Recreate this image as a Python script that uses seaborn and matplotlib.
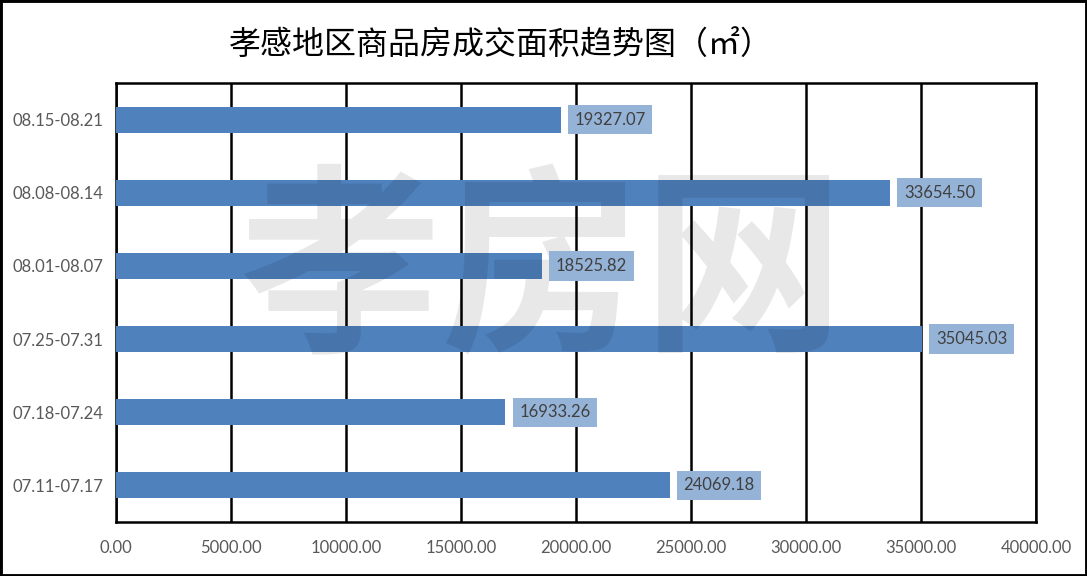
import matplotlib
matplotlib.use("Agg")
import matplotlib.pyplot as plt
import seaborn as sns
import pandas as pd
from matplotlib.patches import Rectangle
from matplotlib.ticker import FuncFormatter, MultipleLocator

categories = ["08.15-08.21", "08.08-08.14", "08.01-08.07", "07.25-07.31", "07.18-07.24", "07.11-07.17"]
values = [19327.07, 33654.50, 18525.82, 35045.03, 16933.26, 24069.18]
title = "孝感地区商品房成交面积趋势图（㎡）"
watermark = "孝房网"

sns.set_style("white")
plt.rcParams['font.family'] = ['Lato', 'Noto Sans CJK SC', 'DejaVu Sans']

fig = plt.figure(figsize=(10.87, 5.76), dpi=100)
ax = fig.add_axes([116/1087, 1 - 522/576, 920/1087, 439/576])
df = pd.DataFrame({"period": categories, "area": values})
sns.barplot(data=df, x="area", y="period", orient="h", color="#4f81bd",
            saturation=1, width=0.355, ax=ax, zorder=3, linewidth=0,
            edgecolor="none")
ax.set_xlim(0, 40000)
ax.xaxis.set_major_locator(MultipleLocator(5000))
ax.xaxis.set_major_formatter(FuncFormatter(lambda v, p: f"{v:.2f}"))
ax.grid(axis='x', color='black', lw=1.8)
ax.grid(axis='y', visible=False)
ax.set_axisbelow(True)
ax.set_xlabel("")
ax.set_ylabel("")
for s in ax.spines.values():
    s.set_visible(True)
    s.set_color("black")
    s.set_linewidth(1.8)
ax.tick_params(axis='both', length=0, labelsize=12, labelcolor='#595959')
ax.tick_params(axis='x', pad=13)
ax.tick_params(axis='y', pad=9)

for i, v in enumerate(values):
    ax.annotate(f"{v:.2f}", xy=(v, i), xytext=(10, 0), textcoords='offset points',
                ha='left', va='center', fontsize=12, color='#404040',
                bbox=dict(boxstyle='square,pad=0.4', fc='#95b3d7', ec='none'),
                zorder=6)

ax.text((542 - 116) / 920, (522 - 276) / 439, watermark, transform=ax.transAxes,
        ha='center', va='center', fontsize=145, fontweight='bold',
        family=['Noto Sans CJK SC', 'DejaVu Sans'], color='black', alpha=0.09,
        zorder=4, clip_on=False)

fig.text(501 / 1087, 1 - 45 / 576, title, ha='center', va='center', fontsize=23,
         family=['Noto Sans CJK SC', 'DejaVu Sans'], color='black')

fig.patches.append(Rectangle((0, 0), 1, 1, transform=fig.transFigure, fill=False,
                             lw=3.5, ec='black'))

fig.savefig("out.png", dpi=100)
